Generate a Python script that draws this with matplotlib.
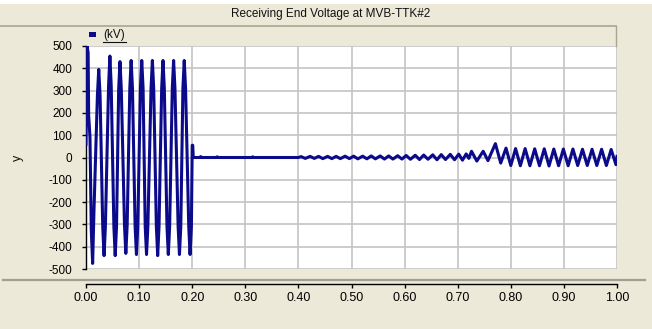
import numpy as np
import matplotlib

matplotlib.use("Agg")
import matplotlib.pyplot as plt
from matplotlib.lines import Line2D
from matplotlib.patches import Rectangle

# waveform, split in pieces (time in s, value in kV)
prefault_t = [0.000, 0.002, 0.004, 0.005, 0.0075, 0.010, 0.0125, 0.015,
              0.0215, 0.024, 0.0265, 0.0315, 0.034, 0.0365, 0.0425, 0.045,
              0.0475, 0.0525, 0.055, 0.0575, 0.0615, 0.064, 0.0665, 0.0725,
              0.075, 0.0775, 0.0825, 0.085, 0.0875, 0.0925, 0.095, 0.0975,
              0.1025, 0.105, 0.1075, 0.1115, 0.114, 0.1165, 0.1225, 0.125,
              0.1275, 0.1325, 0.135, 0.1375, 0.1425, 0.145, 0.1475, 0.1525,
              0.155, 0.1575, 0.1625, 0.165, 0.1675, 0.1735, 0.176, 0.1785,
              0.1825, 0.185, 0.1875, 0.1935, 0.196, 0.1985, 0.200, 0.201]
prefault_kv = [60, 500, 470, 190, 90, -330, -475, -240,
               280, 395, 280, -310, -440, -310, 320, 455,
               320, -310, -440, -310, 305, 430, 305, -305,
               -430, -305, 310, 435, 310, -310, -435, -310,
               310, 435, 310, -310, -435, -310, 310, 435,
               310, -310, -440, -310, 310, 435, 310, -310,
               -435, -310, 310, 435, 310, -310, -435, -310,
               310, 435, 310, -310, -435, -310, 55, 55]

quiet_t = [0.202, 0.214, 0.216, 0.218, 0.245, 0.247, 0.249, 0.312, 0.314,
           0.316, 0.400]
quiet_kv = [0, 0, 4, 0, 0, 3, 0, 0, 3, 0, 0]

ripple_t = [0.405, 0.413, 0.422, 0.430, 0.438, 0.446, 0.455, 0.463, 0.471,
            0.479, 0.488, 0.496, 0.504, 0.512, 0.521, 0.529, 0.537, 0.545,
            0.554, 0.562, 0.570, 0.578, 0.587, 0.595, 0.603, 0.611, 0.620,
            0.628, 0.636, 0.644, 0.653, 0.661, 0.669, 0.677, 0.686, 0.694,
            0.702]
ripple_kv = [4, -4, 5, -4, 5, -5, 5, -5, 5,
             -5, 6, -5, 6, -6, 6, -6, 7, -6,
             7, -7, 7, -7, 8, -7, 9, -8, 10,
             -9, 11, -8, 12, -10, 13, -9, 14, -10,
             15]

swing_t = [0.709, 0.716, 0.721, 0.726, 0.736, 0.748, 0.757, 0.771, 0.781,
           0.791, 0.800, 0.809, 0.818, 0.827, 0.836, 0.845, 0.854, 0.863,
           0.872, 0.881, 0.890, 0.899, 0.908, 0.917, 0.926, 0.935, 0.944,
           0.953, 0.962, 0.971, 0.980, 0.989, 0.998, 1.000]
swing_kv = [-12, 16, -4, 28, -16, 28, -14, 62, -25,
            42, -36, 40, -37, 40, -37, 39, -37, 39,
            -38, 38, -37, 38, -37, 38, -36, 37, -36,
            37, -36, 37, -36, 36, -32, 5]

x_ticks = [0.0, 0.1, 0.2, 0.3, 0.4, 0.5, 0.6, 0.7, 0.8, 0.9, 1.0]
y_ticks = [-500, -400, -300, -200, -100, 0, 100, 200, 300, 400, 500]

title = "Receiving End Voltage at MVB-TTK#2"
legend_label = "(kV)"

BEIGE = "#ECE9D8"
NAVY = "#0A0A8A"
W, H = 652, 329

plt.rcParams["font.family"] = ["Liberation Sans", "DejaVu Sans"]
plt.rcParams["axes.unicode_minus"] = False

fig = plt.figure(figsize=(W / 100, H / 100), dpi=100, facecolor=BEIGE)


def fx(px):
    return px / W


def fy(py):
    return 1 - py / H


# white strip along the very top
fig.patches.append(Rectangle((0, fy(4)), 1, 4 / H, transform=fig.transFigure,
                             facecolor="white", edgecolor="none"))

# title band
fig.text(fx(331), fy(14.5), title, ha="center", va="center", fontsize=8.5,
         color="#111111")
fig.add_artist(Line2D([0, fx(616)], [fy(25.5), fy(25.5)], color="#A8A593",
                      lw=1.2, transform=fig.transFigure))
fig.add_artist(Line2D([fx(616), fx(616)], [fy(26), fy(46)], color="#A8A593",
                      lw=1.0, transform=fig.transFigure))

# legend band
fig.patches.append(Rectangle((fx(89), fy(36.5)), 7 / W, 5 / H,
                             transform=fig.transFigure, facecolor=NAVY,
                             edgecolor="none"))
fig.text(fx(103), fy(35), legend_label, ha="left", va="center", fontsize=8.5,
         color="#111111")
fig.add_artist(Line2D([fx(103), fx(126)], [fy(41.5), fy(41.5)], color="#111111",
                      lw=0.8, transform=fig.transFigure))

# separator above the x axis strip
fig.add_artist(Line2D([fx(3), fx(645)], [fy(279.5), fy(279.5)], color="#A19F92",
                      lw=1.6, transform=fig.transFigure))

ax = fig.add_axes([fx(86), fy(269), (617 - 86) / W, (269 - 46) / H])
ax.set_facecolor("white")

t = np.concatenate([prefault_t, quiet_t, ripple_t, swing_t])
kv = np.concatenate([prefault_kv, quiet_kv, ripple_kv, swing_kv])
ax.plot(t, kv, color=NAVY, lw=2.2, solid_joinstyle="round", zorder=3)

ax.set_xlim(0, 1)
ax.set_ylim(-500, 500)
ax.set_xticks(x_ticks)
ax.set_xticklabels([f"{v:.2f}" for v in x_ticks])
ax.set_yticks(y_ticks)
ax.grid(True, color="#C4C4C4", lw=1.2, zorder=0)

for side in ("top", "right"):
    ax.spines[side].set_visible(False)
ax.spines["left"].set_color("black")
ax.spines["left"].set_linewidth(1.0)
ax.spines["bottom"].set_position(("outward", 10.5))
ax.spines["bottom"].set_color("black")
ax.spines["bottom"].set_linewidth(1.0)

ax.tick_params(axis="x", direction="out", length=3, width=1.0, pad=3,
               labelsize=9, colors="black")
ax.tick_params(axis="y", direction="out", length=3, width=1.0, pad=7,
               labelsize=8.5, colors="black")

fig.text(fx(18), fy(158), "y", rotation=90, ha="center", va="center",
         fontsize=9, color="#111111")

fig.savefig("out.png", dpi=100, facecolor=BEIGE)
